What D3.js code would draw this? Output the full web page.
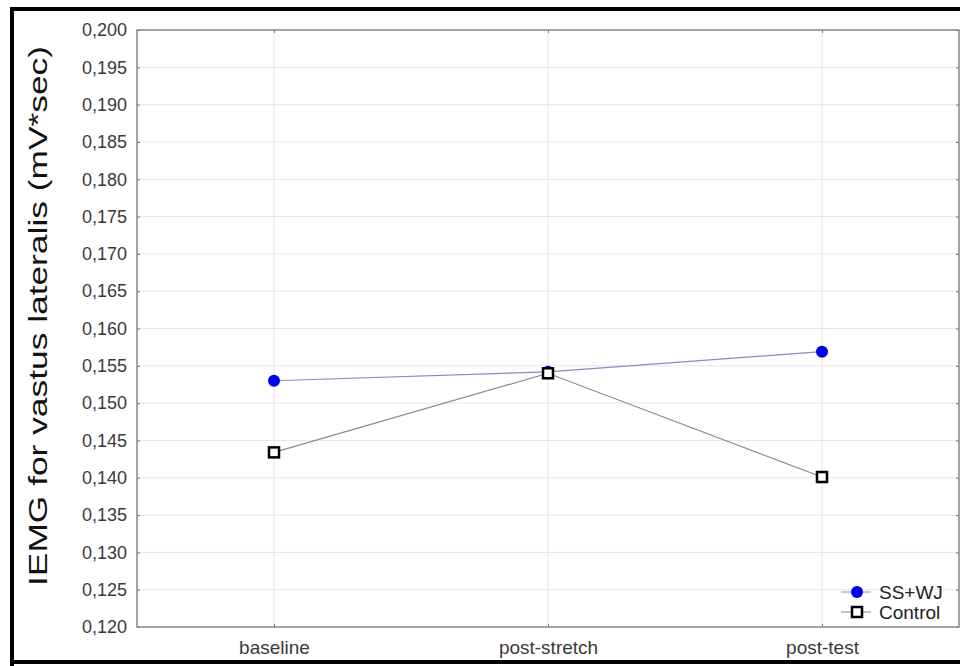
<!DOCTYPE html>
<meta charset="utf-8">
<style>
body { margin: 0; background: #fff; }
svg { font-family: Arial, "Liberation Sans", sans-serif; }
.tick text { fill: #3a3a3a; }
</style>
<body>
<script src="https://d3js.org/d3.v7.min.js"></script>
<script>

// data
var categories = ["baseline", "post-stretch", "post-test"];
var ssWj = [0.1530, 0.1542, 0.1569];
var control = [0.1434, 0.1540, 0.1401];
var yTicks = d3.range(0.120, 0.2001, 0.005);
var seriesNames = ["SS+WJ", "Control"];

var width = 960, height = 666;
var margin = {top: 30, right: 1, bottom: 39, left: 137};
var w = width - margin.left - margin.right,
    h = height - margin.top - margin.bottom;

var svg = d3.select("body").append("svg")
    .attr("width", width)
    .attr("height", height);

// outer black frame
svg.append("path")
    .attr("d", "M12,666 V9 H962 M12,662 H962")
    .attr("fill", "none")
    .attr("stroke", "#000")
    .attr("stroke-width", 4);

var g = svg.append("g")
    .attr("transform", "translate(" + margin.left + "," + margin.top + ")");

var x = d3.scalePoint().domain(categories).range([0, w]).padding(0.5);
var y = d3.scaleLinear().domain([0.120, 0.200]).range([h, 0]);

// grid
g.selectAll(".hgrid").data(yTicks).enter().append("line")
    .attr("x1", 0).attr("x2", w)
    .attr("y1", d => y(d)).attr("y2", d => y(d))
    .attr("stroke", "#e6e6e6");
g.selectAll(".vgrid").data(categories).enter().append("line")
    .attr("x1", d => x(d)).attr("x2", d => x(d))
    .attr("y1", 0).attr("y2", h)
    .attr("stroke", "#e6e6e6");

// axes
var fmt = d => d3.format(".3f")(d).replace(".", ",");
g.append("g")
    .call(d3.axisLeft(y).tickValues(yTicks).tickFormat(fmt).tickSizeInner(-3).tickSizeOuter(0).tickPadding(10))
    .selectAll("text").attr("font-size", 18);
g.append("g")
    .attr("transform", "translate(0," + h + ")")
    .call(d3.axisBottom(x).tickSizeInner(-3).tickSizeOuter(0).tickPadding(14))
    .selectAll("text").attr("font-size", 19);
g.append("g")
    .attr("transform", "translate(" + w + ",0)")
    .call(d3.axisRight(y).tickValues(yTicks).tickFormat("").tickSizeInner(-3).tickSizeOuter(0));
g.append("g")
    .call(d3.axisTop(x).tickFormat("").tickSizeInner(-3).tickSizeOuter(0));
g.selectAll(".domain").attr("stroke", "none");
g.selectAll(".tick line").attr("stroke", "#777");

g.append("rect")
    .attr("width", w).attr("height", h)
    .attr("fill", "none")
    .attr("stroke", "#888")
    .attr("stroke-width", 1.5);

// y title
svg.append("text")
    .attr("transform", "translate(47,316) rotate(-90)")
    .attr("text-anchor", "middle")
    .attr("font-size", 25)
    .attr("fill", "#111")
    .attr("textLength", 540)
    .attr("lengthAdjust", "spacingAndGlyphs")
    .text("IEMG for vastus lateralis (mV*sec)");

var line = d3.line()
    .x((d, i) => x(categories[i]))
    .y(d => y(d));

g.append("path").datum(ssWj)
    .attr("d", line).attr("fill", "none")
    .attr("stroke", "#8a8ac8").attr("stroke-width", 1.2);
g.append("path").datum(control)
    .attr("d", line).attr("fill", "none")
    .attr("stroke", "#8a8a8a").attr("stroke-width", 1.2);

g.selectAll(".ss").data(ssWj).enter().append("circle")
    .attr("cx", (d, i) => x(categories[i]))
    .attr("cy", d => y(d))
    .attr("r", 6)
    .attr("fill", "#0000ee");

g.selectAll(".ctl").data(control).enter().append("rect")
    .attr("x", (d, i) => x(categories[i]) - 5)
    .attr("y", d => y(d) - 5)
    .attr("width", 10).attr("height", 10)
    .attr("fill", "#fff")
    .attr("stroke", "#000")
    .attr("stroke-width", 2.5);

// legend
var legend = svg.append("g").attr("transform", "translate(857,592)");
legend.append("line").attr("x1", -16).attr("x2", 14).attr("stroke", "#8a8ac8");
legend.append("circle").attr("r", 6).attr("fill", "#0000ee");
legend.append("text").attr("x", 22).attr("y", 6.5).attr("font-size", 19).attr("fill", "#222").text(seriesNames[0]);
legend.append("line").attr("x1", -16).attr("x2", 14).attr("y1", 20).attr("y2", 20).attr("stroke", "#8a8a8a");
legend.append("rect").attr("x", -5).attr("y", 15).attr("width", 10).attr("height", 10)
    .attr("fill", "#fff").attr("stroke", "#000").attr("stroke-width", 2.5);
legend.append("text").attr("x", 22).attr("y", 26.5).attr("font-size", 19).attr("fill", "#222").text(seriesNames[1]);

</script>
</body>
